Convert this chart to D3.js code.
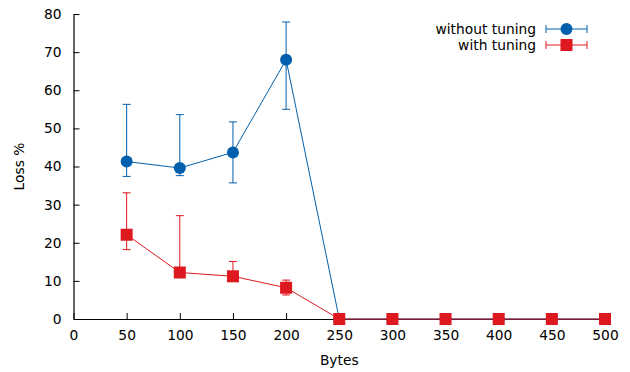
<!DOCTYPE html>
<html>
<head>
<meta charset="utf-8">
<script src="https://cdn.jsdelivr.net/npm/d3@7"></script>
<style>
  body { margin: 0; background: #fff; }
  svg text { font-family: "DejaVu Sans", sans-serif; font-size: 13.8px; fill: #000; }
</style>
</head>
<body>
<svg id="chart" width="630" height="372"></svg>
<script>
// data
const bytes = [50, 100, 150, 200, 250, 300, 350, 400, 450, 500];
const lossNoTuning = [41.3, 39.6, 43.7, 68.0, 0, 0, 0, 0, 0, 0];
const lowNoTuning  = [37.4, 37.6, 35.7, 55.0, 0, 0, 0, 0, 0, 0];
const highNoTuning = [56.3, 53.6, 51.7, 77.9, 0, 0, 0, 0, 0, 0];
const lossTuning = [22.1, 12.2, 11.2, 8.2, 0, 0, 0, 0, 0, 0];
const lowTuning  = [18.2, 11.8, 10.5, 6.3, 0, 0, 0, 0, 0, 0];
const highTuning = [33.1, 27.1, 15.1, 10.2, 0, 0, 0, 0, 0, 0];
const xTicks = [0, 50, 100, 150, 200, 250, 300, 350, 400, 450, 500];
const yTicks = [0, 10, 20, 30, 40, 50, 60, 70, 80];

const svg = d3.select("#chart");
const x = d3.scaleLinear().domain([0, 500]).range([73.5, 605]);
const y = d3.scaleLinear().domain([0, 80]).range([319, 14]);

const blue = "#0060ad", red = "#dd181f";
const fs = 13.8;

// axes (ticks pointing inward)
const gx = svg.append("g").attr("transform", `translate(0,${y(0)})`)
  .call(d3.axisBottom(x).tickValues(xTicks).tickSizeInner(-6).tickSizeOuter(0).tickPadding(12));
const gy = svg.append("g").attr("transform", `translate(${x(0)},0)`)
  .call(d3.axisLeft(y).tickValues(yTicks).tickSizeInner(-6).tickSizeOuter(0).tickPadding(12));
[gx, gy].forEach(g => {
  g.select(".domain").attr("stroke", "#000").attr("stroke-width", 1.2);
  g.selectAll(".tick line").attr("stroke", "#000");
  g.selectAll("text").attr("font-family", "DejaVu Sans, sans-serif").attr("font-size", fs).attr("fill", "#000");
});
gx.selectAll("text").attr("dy", "0.62em");

svg.append("text").attr("x", x(250)).attr("y", 365).attr("text-anchor", "middle").text("Bytes");
svg.append("text").attr("transform", `translate(24,${y(40)}) rotate(-90)`)
  .attr("text-anchor", "middle").text("Loss %");

function drawSeries(vals, lows, highs, color, shape) {
  const pts = bytes.map((b, i) => ({ b, v: vals[i], lo: lows[i], hi: highs[i] }));
  const g = svg.append("g");
  const eb = g.selectAll(".eb").data(pts).enter().append("g").attr("stroke", color).attr("stroke-width", 1);
  eb.append("line").attr("x1", d => x(d.b)).attr("x2", d => x(d.b)).attr("y1", d => y(d.lo)).attr("y2", d => y(d.hi));
  eb.append("line").attr("x1", d => x(d.b) - 4).attr("x2", d => x(d.b) + 4).attr("y1", d => y(d.lo)).attr("y2", d => y(d.lo));
  eb.append("line").attr("x1", d => x(d.b) - 4).attr("x2", d => x(d.b) + 4).attr("y1", d => y(d.hi)).attr("y2", d => y(d.hi));
  g.append("path").datum(pts).attr("fill", "none").attr("stroke", color).attr("stroke-width", 1)
    .attr("d", d3.line().x(d => x(d.b)).y(d => y(d.v)));
  pts.forEach(d => marker(g, x(d.b), y(d.v), color, shape));
}

function marker(g, cx, cy, color, shape) {
  if (shape === "circle") {
    g.append("circle").attr("cx", cx).attr("cy", cy).attr("r", 6).attr("fill", color);
  } else {
    g.append("rect").attr("x", cx - 6).attr("y", cy - 6).attr("width", 12).attr("height", 12).attr("fill", color);
  }
}

drawSeries(lossNoTuning, lowNoTuning, highNoTuning, blue, "circle");
drawSeries(lossTuning, lowTuning, highTuning, red, "square");

// legend
const legend = [
  { label: "without tuning", color: blue, shape: "circle", yy: 29 },
  { label: "with tuning", color: red, shape: "square", yy: 45 }
];
legend.forEach(l => {
  const g = svg.append("g");
  g.append("text").attr("x", 536).attr("y", l.yy).attr("dy", "0.35em").attr("text-anchor", "end").text(l.label);
  const s = g.append("g").attr("stroke", l.color).attr("stroke-width", 1);
  s.append("line").attr("x1", 546).attr("x2", 587).attr("y1", l.yy).attr("y2", l.yy);
  s.append("line").attr("x1", 546).attr("x2", 546).attr("y1", l.yy - 4).attr("y2", l.yy + 4);
  s.append("line").attr("x1", 587).attr("x2", 587).attr("y1", l.yy - 4).attr("y2", l.yy + 4);
  marker(g, 566.5, l.yy, l.color, l.shape);
});
</script>
</body>
</html>
